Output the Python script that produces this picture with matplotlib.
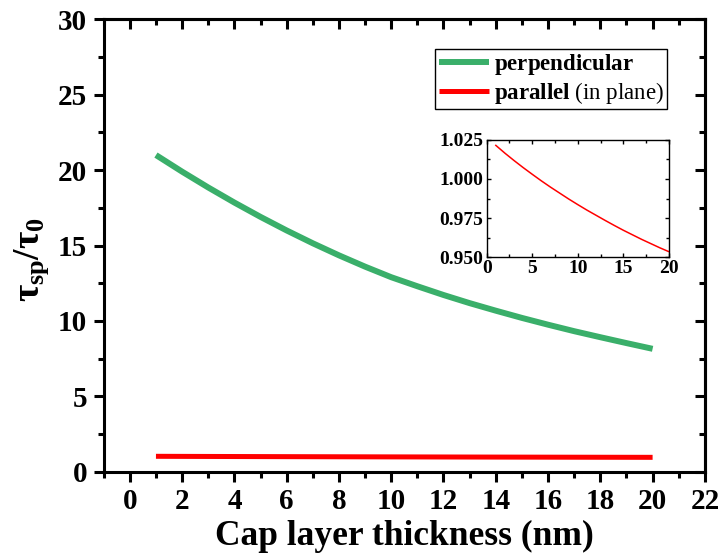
import matplotlib
matplotlib.use("Agg")
import matplotlib.pyplot as plt
from matplotlib.ticker import MultipleLocator, FormatStrFormatter

plt.rcParams['font.family'] = ['Liberation Serif', 'DejaVu Serif']
plt.rcParams['font.weight'] = 'bold'
plt.rcParams['mathtext.fontset'] = 'custom'
plt.rcParams['mathtext.rm'] = 'Liberation Serif:bold'
plt.rcParams['mathtext.it'] = 'Liberation Serif:bold'
plt.rcParams['mathtext.bf'] = 'Liberation Serif:bold'

thickness = [1, 2, 3, 4, 5, 6, 7, 8, 9, 10, 11, 12, 13, 14, 15, 16, 17, 18, 19, 20]
perpendicular = [21.0, 19.9, 18.85, 17.85, 16.9, 16.0, 15.15, 14.35, 13.6, 12.9,
                 12.3, 11.72, 11.18, 10.68, 10.2, 9.75, 9.32, 8.92, 8.53, 8.15]
parallel = [1.0215, 1.0165, 1.0118, 1.0073, 1.003, 0.9988, 0.9948, 0.991, 0.9872, 0.9836,
            0.9801, 0.9768, 0.9735, 0.9703, 0.9672, 0.9643, 0.9614, 0.9587, 0.956, 0.9535]

fig = plt.figure(figsize=(7.2, 5.53), dpi=100)
ax = fig.add_axes([0.144, 0.147, 0.835, 0.818])

ax.plot(thickness, perpendicular, color='#3aaf6a', lw=4.3, label=r'$\mathbf{perpendicular}$',
        solid_capstyle='butt', solid_joinstyle='round')
ax.plot(thickness, parallel, color='#ff0000', lw=3.6, label=r'$\mathbf{parallel}$ (in plane)',
        solid_capstyle='butt')

ax.set_xlim(-1, 22)
ax.set_ylim(0, 30)
ax.xaxis.set_major_locator(MultipleLocator(2))
ax.xaxis.set_minor_locator(MultipleLocator(1))
ax.yaxis.set_major_locator(MultipleLocator(5))
ax.yaxis.set_minor_locator(MultipleLocator(2.5))
ax.tick_params(which='major', direction='out', length=7, width=2.2, labelsize=21, pad=5)
ax.tick_params(which='minor', direction='out', length=4, width=2.2)
for s in ax.spines.values():
    s.set_linewidth(2.2)

sx = ax.secondary_xaxis('top')
sx.xaxis.set_major_locator(MultipleLocator(2))
sx.xaxis.set_minor_locator(MultipleLocator(1))
sx.tick_params(which='major', direction='in', length=7, width=2.2, labeltop=False)
sx.tick_params(which='minor', direction='in', length=4, width=2.2)
sx.spines['top'].set_linewidth(2.2)
sy = ax.secondary_yaxis('right')
sy.yaxis.set_major_locator(MultipleLocator(5))
sy.yaxis.set_minor_locator(MultipleLocator(2.5))
sy.tick_params(which='major', direction='in', length=7, width=2.2, labelright=False)
sy.tick_params(which='minor', direction='in', length=4, width=2.2)
sy.spines['right'].set_linewidth(2.2)

ax.set_xlabel('Cap layer thickness (nm)', fontsize=25.5, fontweight='bold')
ax.xaxis.set_label_coords(0.5, -0.106)
ax.set_ylabel(r'$\tau_{sp}/\tau_0$', fontsize=27)
ax.yaxis.set_label_coords(-0.087, 0.468)

leg = ax.legend(loc='upper right', bbox_to_anchor=(0.937, 0.9345), fancybox=False,
                edgecolor='black', framealpha=1, borderaxespad=0,
                prop={'family': 'Liberation Serif', 'weight': 'normal', 'size': 16.5},
                handlelength=2.2, handletextpad=0.2, borderpad=0.15, labelspacing=0.1)
leg.get_frame().set_linewidth(1.0)

ins = fig.add_axes([0.676, 0.535, 0.253, 0.212])
ins.plot(thickness, parallel, color='#ff0000', lw=1.1)
ins.set_xlim(0, 20)
ins.set_ylim(0.95, 1.025)
ins.xaxis.set_major_locator(MultipleLocator(5))
ins.xaxis.set_minor_locator(MultipleLocator(2.5))
ins.yaxis.set_major_locator(MultipleLocator(0.025))
ins.yaxis.set_minor_locator(MultipleLocator(0.0125))
ins.yaxis.set_major_formatter(FormatStrFormatter('%.3f'))
ins.tick_params(which='both', direction='in', top=True, right=True, labelsize=14)
ins.tick_params(axis='y', pad=2.5)
ins.tick_params(axis='x', pad=2)
ins.tick_params(which='major', length=3, width=1)
ins.tick_params(which='minor', length=2, width=1)
for s in ins.spines.values():
    s.set_linewidth(1.0)

fig.savefig('out.png', dpi=100)
